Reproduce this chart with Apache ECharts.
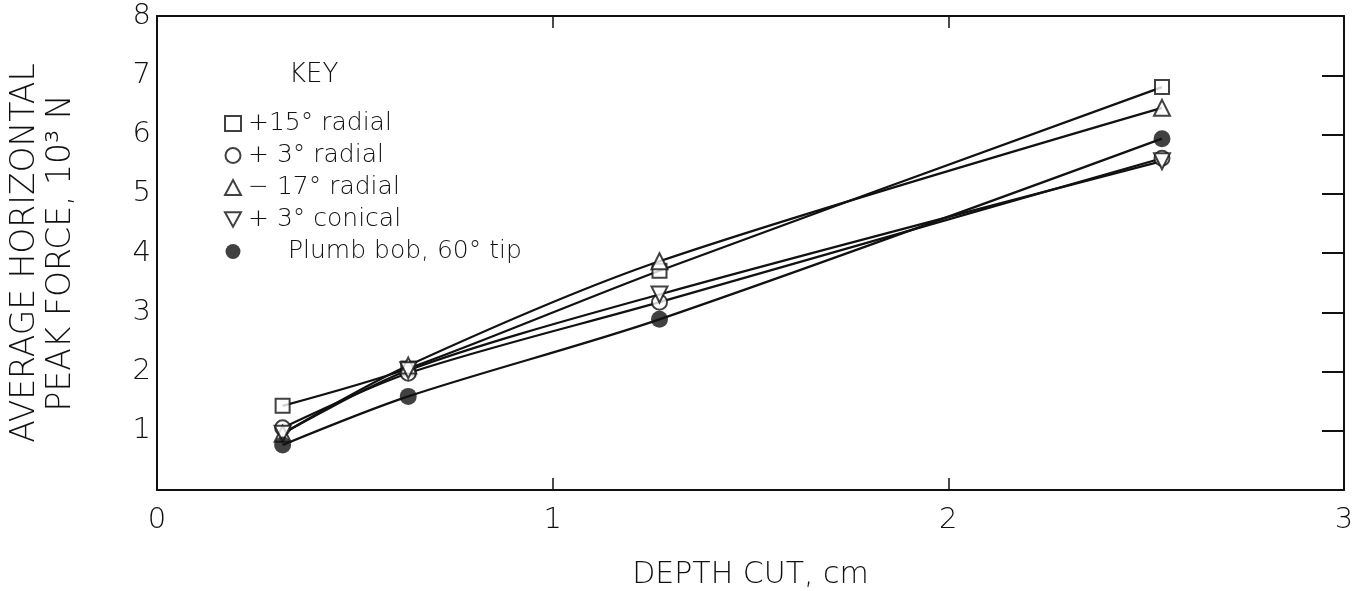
<!DOCTYPE html>
<html>
<head>
<meta charset="utf-8">
<script src="https://cdn.jsdelivr.net/npm/echarts@6/dist/echarts.min.js"></script>
<style>
html,body{margin:0;padding:0;background:#fff;}
#chart{width:1367px;height:591px;}
</style>
</head>
<body>
<div id="chart"></div>
<script>
// ---- data ----
const depthCut = [0.3175, 0.635, 1.27, 2.54];
const radial15 = [1.42, 2.05, 3.70, 6.80];
const radial3 = [1.05, 1.97, 3.17, 5.60];
const radialMinus17 = [0.95, 2.10, 3.86, 6.45];
const conical3 = [0.95, 2.02, 3.30, 5.55];
const plumbBob = [0.76, 1.58, 2.88, 5.93];
const seriesNames = ['+15° radial', '+ 3° radial', '− 17° radial', '+ 3° conical', 'Plumb bob, 60° tip'];
const xTicks = [0, 1, 2, 3];
const yTicks = [1, 2, 3, 4, 5, 6, 7, 8];

const FONT = '"DejaVu Sans", "Liberation Sans", sans-serif';
const FW = 300;
const INK = '#111';

const pairs = arr => depthCut.map((x, i) => [x, arr[i]]);
const valueSets = [radial15, radial3, radialMinus17, conical3, plumbBob];
const symbols = [
  'rect',
  'circle',
  'triangle',
  'path://M0,0 L10,0 L5,9 Z',
  'circle'
];
const symbolSizes = [14, 15, 16, 16, 17];
const filled = [false, false, false, false, true];

const series = [];
valueSets.forEach((vals, i) => {
  series.push({
    type: 'line',
    name: seriesNames[i] + ' line',
    data: pairs(vals),
    smooth: 0.3,
    showSymbol: false,
    lineStyle: {color: INK, width: 2.2},
    z: 2,
    silent: true
  });
});
valueSets.forEach((vals, i) => {
  series.push({
    type: 'scatter',
    name: seriesNames[i],
    data: pairs(vals),
    symbol: symbols[i],
    symbolSize: symbolSizes[i],
    itemStyle: {
      color: filled[i] ? INK : '#fff',
      borderColor: INK,
      borderWidth: filled[i] ? 0 : 2
    },
    z: 5
  });
});

const chart = echarts.init(document.getElementById('chart'), null, {renderer: 'canvas'});
chart.setOption({
  backgroundColor: '#fff',
  animation: false,
  grid: {left: 157, right: 23, top: 16, bottom: 101, containLabel: false, outerBoundsMode: 'none'},
  xAxis: [{
    type: 'value', min: 0, max: 3, interval: 1, position: 'bottom',
    name: 'DEPTH CUT, cm', nameLocation: 'middle', nameGap: 70,
    nameTextStyle: {fontFamily: FONT, fontWeight: FW, fontSize: 30, color: INK},
    axisLine: {show: true, onZero: false, lineStyle: {color: INK, width: 2}},
    axisTick: {show: true, inside: true, length: 12, lineStyle: {color: INK, width: 1.5}},
    axisLabel: {fontFamily: FONT, fontWeight: FW, fontSize: 29, color: INK, margin: 16,
      formatter: v => xTicks.includes(v) ? String(v) : ''},
    splitLine: {show: false}
  }, {
    type: 'value', min: 0, max: 3, interval: 1, position: 'top',
    axisLine: {show: true, onZero: false, lineStyle: {color: INK, width: 2}},
    axisTick: {show: true, inside: true, length: 12, lineStyle: {color: INK, width: 1.5}},
    axisLabel: {show: false},
    splitLine: {show: false}
  }],
  yAxis: [{
    type: 'value', min: 0, max: 8, interval: 1, position: 'left',
    name: 'AVERAGE HORIZONTAL\nPEAK FORCE, 10³ N', nameLocation: 'middle', nameGap: 78, nameRotate: 90,
    nameTextStyle: {fontFamily: FONT, fontWeight: FW, fontSize: 33, color: INK, lineHeight: 36, align: 'center'},
    axisLine: {show: true, onZero: false, lineStyle: {color: INK, width: 2}},
    axisTick: {show: false},
    axisLabel: {fontFamily: FONT, fontWeight: FW, fontSize: 29, color: INK, margin: 6,
      formatter: v => yTicks.includes(v) ? String(v) : ''},
    splitLine: {show: false}
  }, {
    type: 'value', min: 0, max: 8, interval: 1, position: 'right',
    axisLine: {show: true, onZero: false, lineStyle: {color: INK, width: 2}},
    axisTick: {show: true, inside: true, length: 22, lineStyle: {color: INK, width: 2}},
    axisLabel: {show: false},
    splitLine: {show: false}
  }],
  legend: {
    data: seriesNames,
    orient: 'vertical',
    left: 219, top: 106,
    itemWidth: 16, itemHeight: 15, itemGap: 7,
    textStyle: {
      fontFamily: FONT, fontWeight: FW, fontSize: 25, color: INK, padding: [0, 0, 0, 2],
      rich: {pad: {width: 40}, t: {fontFamily: FONT, fontWeight: FW, fontSize: 25, color: INK}}
    },
    formatter: name => name.startsWith('Plumb') ? '{pad|}{t|' + name + '}' : name,
    selectedMode: false
  },
  graphic: [{
    type: 'text', left: 289, top: 62,
    style: {text: 'KEY', font: FW + ' 26px ' + FONT, fill: INK}
  }],
  series: series
});
</script>
</body>
</html>
